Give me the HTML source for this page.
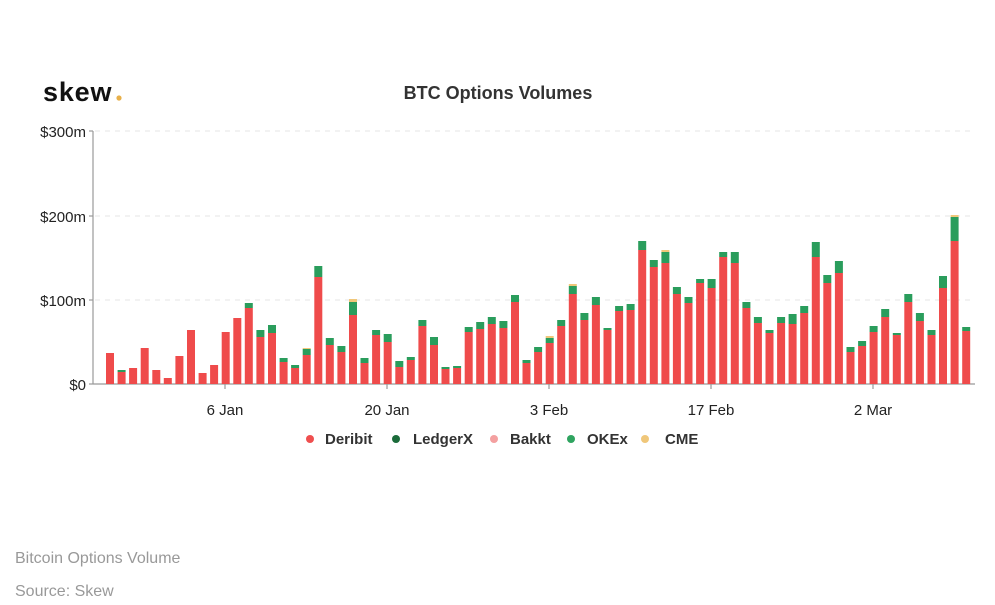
<!DOCTYPE html>
<html><head><meta charset="utf-8"><style>
html,body{margin:0;padding:0;background:#fff;width:995px;height:605px;overflow:hidden;font-family:"Liberation Sans",sans-serif}
</style></head><body>
<svg id="s" width="995" height="605" xmlns="http://www.w3.org/2000/svg" font-family="Liberation Sans, sans-serif">
<text x="43" y="101" font-size="27" font-weight="bold" fill="#111" letter-spacing="0.8">skew</text>
<circle cx="119" cy="98" r="2.6" fill="#e8b04a"/>
<text x="498" y="99" font-size="18" font-weight="bold" fill="#333" text-anchor="middle">BTC Options Volumes</text>
<g stroke="#e4e4e4" stroke-dasharray="5,5" stroke-width="1">
<line x1="95" y1="131" x2="975" y2="131"/><line x1="95" y1="216" x2="975" y2="216"/><line x1="95" y1="300" x2="975" y2="300"/>
</g>
<g font-size="15" fill="#222" text-anchor="end">
<text x="86" y="137">$300m</text><text x="86" y="222">$200m</text><text x="86" y="306">$100m</text><text x="86" y="390">$0</text>
</g>
<g stroke="#999" stroke-width="1.2">
<line x1="93" y1="131" x2="93" y2="384"/><line x1="89" y1="131" x2="93" y2="131"/><line x1="89" y1="216" x2="93" y2="216"/><line x1="89" y1="300" x2="93" y2="300"/><line x1="89" y1="384" x2="93" y2="384"/>
<line x1="93" y1="384" x2="975" y2="384"/>
<line x1="225" y1="384" x2="225" y2="389"/><line x1="387" y1="384" x2="387" y2="389"/><line x1="549" y1="384" x2="549" y2="389"/><line x1="711" y1="384" x2="711" y2="389"/><line x1="873" y1="384" x2="873" y2="389"/>
</g>
<g id="bars"></g>
<g font-size="15" fill="#222" text-anchor="middle">
<text x="225" y="415">6 Jan</text><text x="387" y="415">20 Jan</text><text x="549" y="415">3 Feb</text><text x="711" y="415">17 Feb</text><text x="873" y="415">2 Mar</text>
</g>
<g font-size="15" fill="#333" font-weight="bold">
<circle cx="310" cy="439" r="4" fill="#ef4f4f"/><text x="325" y="444">Deribit</text>
<circle cx="396" cy="439" r="4" fill="#1b6b3a"/><text x="413" y="444">LedgerX</text>
<circle cx="494" cy="439" r="4" fill="#f4a0a0"/><text x="510" y="444">Bakkt</text>
<circle cx="571" cy="439" r="4" fill="#2fa460"/><text x="587" y="444">OKEx</text>
<circle cx="645" cy="439" r="4" fill="#f0c77a"/><text x="665" y="444">CME</text>
</g>
<text x="15" y="563" font-size="16" fill="#999">Bitcoin Options Volume</text>
<text x="15" y="596" font-size="16" fill="#999">Source: Skew</text>
</svg>
<script>
var red=[353,372,368,348,370,378,356,330,373,365,332,318,308,337,333,362,368,355,277,345,352,315,363,335,342,367,360,326,345,369,368,332,329,324,328,302,363,352,343,326,294,320,305,330,311,310,250,267,263,294,303,283,288,257,263,308,323,333,323,324,313,257,283,273,352,346,332,317,335,302,321,335,288,241,331];
var tot=[353,370,368,348,370,378,356,330,373,365,332,318,303,330,325,358,365,349,266,338,346,302,358,330,334,361,357,320,337,367,366,327,322,317,321,295,360,347,338,320,286,313,297,328,306,304,241,260,252,287,297,279,279,252,252,302,317,330,317,314,306,242,275,261,347,341,326,309,333,294,313,330,276,217,327];
var yel={17:1,21:3,38:2,40:2,48:2,73:2};
var g=document.getElementById('bars'),h='';
for(var i=0;i<red.length;i++){var x=110+11.57*i-4;
h+='<rect x="'+x.toFixed(1)+'" y="'+red[i]+'" width="8" height="'+(384-red[i])+'" fill="#ef4b4b"/>';
if(tot[i]<red[i]){h+='<rect x="'+x.toFixed(1)+'" y="'+tot[i]+'" width="8" height="'+(red[i]-tot[i])+'" fill="#2a9d5c"/>';}
if(yel[i]){h+='<rect x="'+x.toFixed(1)+'" y="'+(tot[i]-yel[i])+'" width="8" height="'+yel[i]+'" fill="#f0c77a"/>';}
}
g.innerHTML=h;
</script>
</body></html>
